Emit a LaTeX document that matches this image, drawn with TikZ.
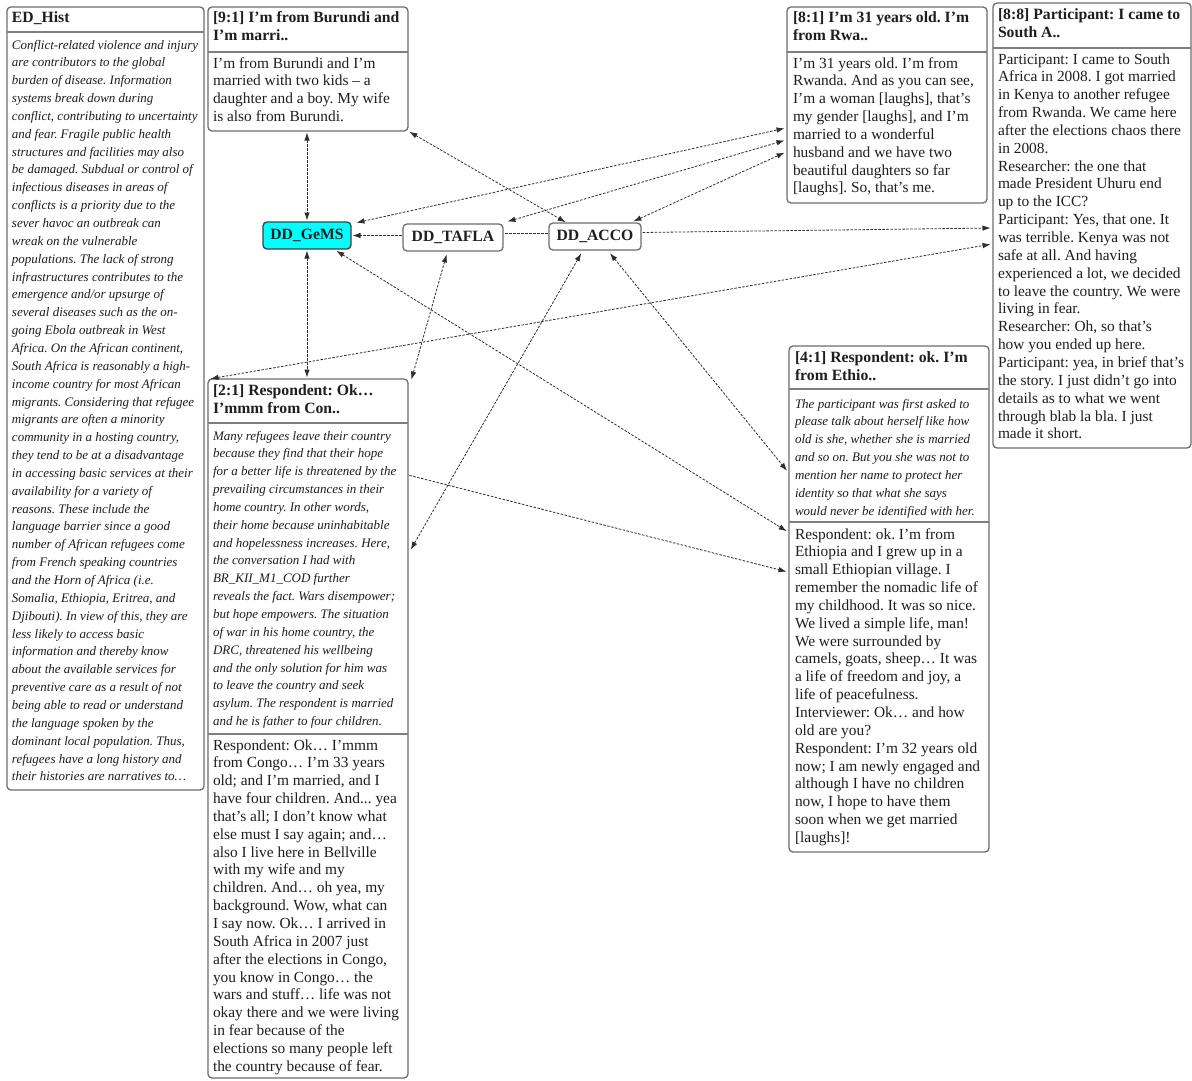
\documentclass[tikz,border=0pt]{standalone}
\usepackage{fontspec}
\setmainfont{Liberation Serif}
\usetikzlibrary{arrows.meta,calc}
\frenchspacing

\definecolor{boxline}{HTML}{6E6E6E}
\definecolor{sepline}{HTML}{7E7E7E}
\definecolor{ink}{HTML}{1E1E1E}
\definecolor{edgeink}{HTML}{2E2E2E}
\definecolor{gemsfill}{HTML}{00FFFF}

% type faces for the quotation boxes
\newcommand\hdfont{\fontsize{15.7}{18}\selectfont\bfseries}
\newcommand\bdfont{\fontsize{15.4}{17.85}\selectfont}
\newcommand\emfont{\fontsize{13}{17.85}\selectfont\itshape}
% a block of lines whose baseline is the baseline of its first line
\newcommand\lines[2]{#1\begin{tabular}[t]{@{}l@{}}#2\end{tabular}}

\tikzset{
  qbox/.style={draw=boxline, line width=1.3pt, rounded corners=4pt, fill=white,
    inner sep=0pt, outer sep=0pt, anchor=north west},
  code/.style={draw=boxline, line width=1.3pt, rounded corners=4pt, fill=white,
    inner sep=0pt, outer sep=0pt, minimum height=27pt, font=\hdfont, text=ink},
  txt/.style={anchor=base west, inner sep=0pt, outer sep=0pt, text=ink},
  sep/.style={draw=sepline, line width=1.8pt},
  link/.style={draw=edgeink, line width=0.8pt, dash pattern=on 2.5pt off 1.5pt,
    shorten >=1.5pt, shorten <=1.5pt},
  both/.style={link, {Latex[length=8pt,width=5.5pt]}-{Latex[length=8pt,width=5.5pt]}},
  fwd/.style={link, -{Latex[length=8pt,width=5.5pt]}},
}

\begin{document}
\begin{tikzpicture}[x=1pt,y=-1pt]
\useasboundingbox[fill=white] (0,0) rectangle (1192,1080);

% ---------- memo box ----------
\node[qbox, minimum width=197pt, minimum height=783pt] (edh) at (7,7) {};
\draw[sep] ($(edh.north west)+(0,25)$) -- ($(edh.north east)+(0,25)$);
\node[txt] (edhh) at (12,22) {\lines{\hdfont}{ED\_Hist}};
\node[txt] (edhb) at (12,49) {\lines{\emfont}{%
Conflict-related violence and injury\\
are contributors to the global\\
burden of disease. Information\\
systems break down during\\
conflict, contributing to uncertainty\\
and fear. Fragile public health\\
structures and facilities may also\\
be damaged. Subdual or control of\\
infectious diseases in areas of\\
conflicts is a priority due to the\\
sever havoc an outbreak can\\
wreak on the vulnerable\\
populations. The lack of strong\\
infrastructures contributes to the\\
emergence and/or upsurge of\\
several diseases such as the on-\\
going Ebola outbreak in West\\
Africa. On the African continent,\\
South Africa is reasonably a high-\\
income country for most African\\
migrants. Considering that refugee\\
migrants are often a minority\\
community in a hosting country,\\
they tend to be at a disadvantage\\
in accessing basic services at their\\
availability for a variety of\\
reasons. These include the\\
language barrier since a good\\
number of African refugees come\\
from French speaking countries\\
and the Horn of Africa (i.e.\\
Somalia, Ethiopia, Eritrea, and\\
Djibouti). In view of this, they are\\
less likely to access basic\\
information and thereby know\\
about the available services for\\
preventive care as a result of not\\
being able to read or understand\\
the language spoken by the\\
dominant local population. Thus,\\
refugees have a long history and\\
their histories are narratives to…}};

% ---------- quotation [9:1] ----------
\node[qbox, minimum width=200pt, minimum height=124pt] (n91) at (208,7) {};
\draw[sep] ($(n91.north west)+(0,45)$) -- ($(n91.north east)+(0,45)$);
\node[txt] (n91h) at (213,22) {\lines{\hdfont}{[9:1] I’m from Burundi and\\ I’m marri..}};
\node[txt] (n91b) at (213,68) {\lines{\bdfont}{%
I’m from Burundi and I’m\\
married with two kids – a\\
daughter and a boy. My wife\\
is also from Burundi.}};

% ---------- quotation [8:1] ----------
\node[qbox, minimum width=200pt, minimum height=196pt] (n81) at (787,7) {};
\draw[sep] ($(n81.north west)+(0,45)$) -- ($(n81.north east)+(0,45)$);
\node[txt] (n81h) at (793,22) {\lines{\hdfont}{[8:1] I’m 31 years old. I’m\\ from Rwa..}};
\node[txt] (n81b) at (793,68) {\lines{\bdfont}{%
I’m 31 years old. I’m from\\
Rwanda. And as you can see,\\
I’m a woman [laughs], that’s\\
my gender [laughs], and I’m\\
married to a wonderful\\
husband and we have two\\
beautiful daughters so far\\
{[laughs]}. So, that’s me.}};

% ---------- quotation [8:8] ----------
\node[qbox, minimum width=198pt, minimum height=445pt] (n88) at (993,3) {};
\draw[sep] ($(n88.north west)+(0,45)$) -- ($(n88.north east)+(0,45)$);
\node[txt] (n88h) at (998,19) {\lines{\hdfont}{[8:8] Participant: I came to\\ South A..}};
\node[txt] (n88b) at (998,64) {\lines{\bdfont}{%
Participant: I came to South\\
Africa in 2008. I got married\\
in Kenya to another refugee\\
from Rwanda. We came here\\
after the elections chaos there\\
in 2008.\\
Researcher: the one that\\
made President Uhuru end\\
up to the ICC?\\
Participant: Yes, that one. It\\
was terrible. Kenya was not\\
safe at all. And having\\
experienced a lot, we decided\\
to leave the country. We were\\
living in fear.\\
Researcher: Oh, so that’s\\
how you ended up here.\\
Participant: yea, in brief that’s\\
the story. I just didn’t go into\\
details as to what we went\\
through blab la bla. I just\\
made it short.}};

% ---------- quotation [4:1] ----------
\node[qbox, minimum width=200pt, minimum height=506pt] (n41) at (789,346) {};
\draw[sep] ($(n41.north west)+(0,43)$) -- ($(n41.north east)+(0,43)$);
\draw[sep] ($(n41.north west)+(0,176)$) -- ($(n41.north east)+(0,176)$);
\node[txt] (n41h) at (795,362) {\lines{\hdfont}{[4:1] Respondent: ok. I’m\\ from Ethio..}};
\node[txt] (n41c) at (795,408) {\lines{\emfont}{%
The participant was first asked to\\
please talk about herself like how\\
old is she, whether she is married\\
and so on. But you she was not to\\
mention her name to protect her\\
identity so that what she says\\
would never be identified with her.}};
\node[txt] (n41b) at (795,539) {\lines{\bdfont}{%
Respondent: ok. I’m from\\
Ethiopia and I grew up in a\\
small Ethiopian village. I\\
remember the nomadic life of\\
my childhood. It was so nice.\\
We lived a simple life, man!\\
We were surrounded by\\
camels, goats, sheep… It was\\
a life of freedom and joy, a\\
life of peacefulness.\\
Interviewer: Ok… and how\\
old are you?\\
Respondent: I’m 32 years old\\
now; I am newly engaged and\\
although I have no children\\
now, I hope to have them\\
soon when we get married\\
{[laughs]}!}};

% ---------- quotation [2:1] ----------
\node[qbox, minimum width=200pt, minimum height=699pt] (n21) at (208,379) {};
\draw[sep] ($(n21.north west)+(0,44)$) -- ($(n21.north east)+(0,44)$);
\draw[sep] ($(n21.north west)+(0,355)$) -- ($(n21.north east)+(0,355)$);
\node[txt] (n21h) at (213,395) {\lines{\hdfont}{[2:1] Respondent: Ok…\\ I’mmm from Con..}};
\node[txt] (n21c) at (213,440) {\lines{\emfont}{%
Many refugees leave their country\\
because they find that their hope\\
for a better life is threatened by the\\
prevailing circumstances in their\\
home country. In other words,\\
their home because uninhabitable\\
and hopelessness increases. Here,\\
the conversation I had with\\
BR\_KII\_M1\_COD further\\
reveals the fact. Wars disempower;\\
but hope empowers. The situation\\
of war in his home country, the\\
DRC, threatened his wellbeing\\
and the only solution for him was\\
to leave the country and seek\\
asylum. The respondent is married\\
and he is father to four children.}};
\node[txt] (n21b) at (213,750) {\lines{\bdfont}{%
Respondent: Ok… I’mmm\\
from Congo… I’m 33 years\\
old; and I’m married, and I\\
have four children. And... yea\\
that’s all; I don’t know what\\
else must I say again; and…\\
also I live here in Bellville\\
with my wife and my\\
children. And… oh yea, my\\
background. Wow, what can\\
I say now. Ok… I arrived in\\
South Africa in 2007 just\\
after the elections in Congo,\\
you know in Congo… the\\
wars and stuff… life was not\\
okay there and we were living\\
in fear because of the\\
elections so many people left\\
the country because of fear.}};

% ---------- codes ----------
\node[code, fill=gemsfill, draw=black!75, minimum width=88pt] (gems) at (307,235.5) {DD\_GeMS};
\node[code, minimum width=100pt] (tafla) at (453,237.5) {DD\_TAFLA};
\node[code, minimum width=92pt] (acco) at (595,236.5) {DD\_ACCO};

% ---------- links ----------
\draw[both] (gems.north |- n91.south) -- (gems.north);
\draw[both] (n91.south east) -- ($(acco.north west)+(18,0)$);
\draw[both] ($(gems.north east)+(4,1)$) -- ($(n81.north west)+(-1,121)$);
\draw[both] ($(tafla.north east)+(3,-2)$) -- ($(n81.north west)+(-1,133)$);
\draw[both] ($(acco.north east)+(-9,-1)$) -- ($(n81.north west)+(-1,145)$);
\draw[fwd] ($(acco.east)+(0,-4)$) -- ($(n88.north west)+(-1,225)$);
\draw[both] ($(n21.north west)+(1,0)$) -- ($(n88.north west)+(-1,241)$);
\draw[both] (gems.south) -- (gems.south |- n21.north);
\draw[both] ($(gems.south east)+(-16,1)$) -- ($(n41.north west)+(-1,186)$);
\draw[fwd] ($(n21.north east)+(0,96)$) -- ($(n41.north west)+(-1,226)$);
\draw[both] ($(tafla.south west)+(44,2)$) -- ($(n21.north east)+(3,2)$);
\draw[both] ($(acco.south west)+(33,2)$) -- ($(n21.north east)+(2,172)$);
\draw[both] ($(acco.south west)+(60,2)$) -- ($(n41.north west)+(-1,126)$);
\draw[fwd] ($(tafla.west)+(0,-2)$) -- (gems.east);
\draw[link] ($(acco.west)+(0,-3)$) -- ($(tafla.east)+(0,-4)$);
\end{tikzpicture}
\end{document}
